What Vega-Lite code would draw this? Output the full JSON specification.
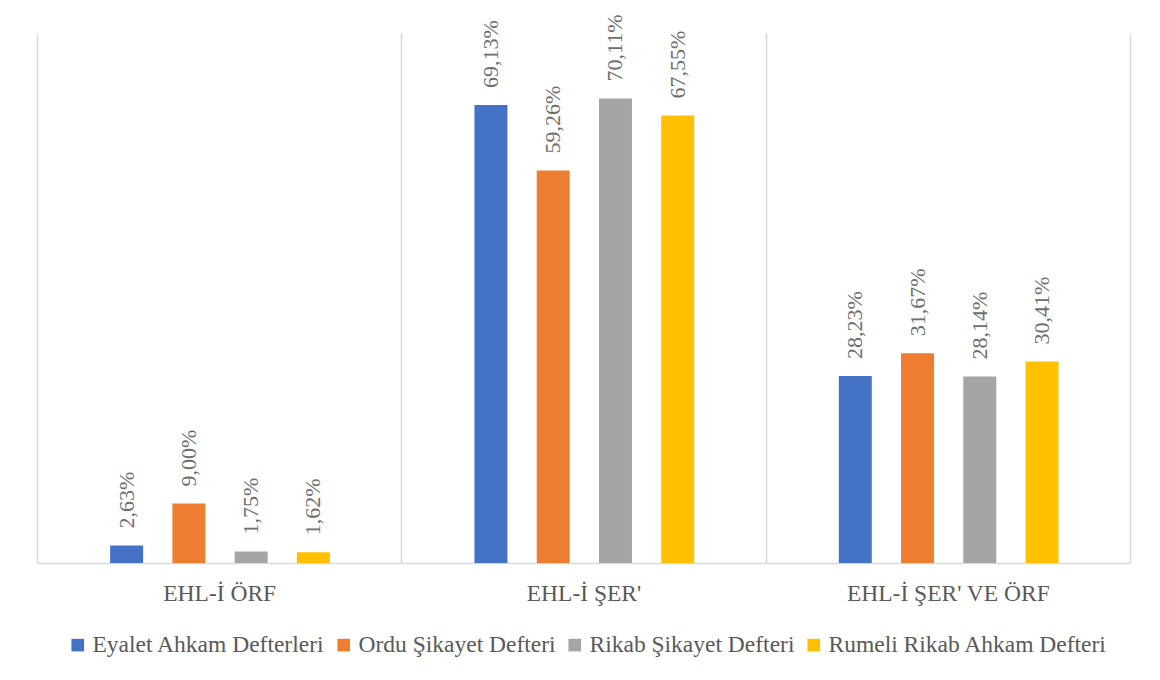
{
  "$schema": "https://vega.github.io/schema/vega-lite/v6.json",
  "width": 1093,
  "height": 530,
  "autosize": {"type": "none"},
  "padding": {"left": 37, "top": 33, "right": 30, "bottom": 117},
  "background": "white",
  "config": {
    "view": {"stroke": null},
    "font": "'Liberation Serif', 'DejaVu Serif', serif",
    "locale": {"number": {"decimal": ",", "thousands": ".", "grouping": [3], "currency": ["", " TL"]}}
  },
  "data": {
    "values": [
      {"kategori": "EHL-İ ÖRF", "defter": "Eyalet Ahkam Defterleri", "oran": 0.0263},
      {"kategori": "EHL-İ ÖRF", "defter": "Ordu Şikayet Defteri", "oran": 0.09},
      {"kategori": "EHL-İ ÖRF", "defter": "Rikab Şikayet Defteri", "oran": 0.0175},
      {"kategori": "EHL-İ ÖRF", "defter": "Rumeli Rikab Ahkam Defteri", "oran": 0.0162},
      {"kategori": "EHL-İ ŞER'", "defter": "Eyalet Ahkam Defterleri", "oran": 0.6913},
      {"kategori": "EHL-İ ŞER'", "defter": "Ordu Şikayet Defteri", "oran": 0.5926},
      {"kategori": "EHL-İ ŞER'", "defter": "Rikab Şikayet Defteri", "oran": 0.7011},
      {"kategori": "EHL-İ ŞER'", "defter": "Rumeli Rikab Ahkam Defteri", "oran": 0.6755},
      {"kategori": "EHL-İ ŞER' VE ÖRF", "defter": "Eyalet Ahkam Defterleri", "oran": 0.2823},
      {"kategori": "EHL-İ ŞER' VE ÖRF", "defter": "Ordu Şikayet Defteri", "oran": 0.3167},
      {"kategori": "EHL-İ ŞER' VE ÖRF", "defter": "Rikab Şikayet Defteri", "oran": 0.2814},
      {"kategori": "EHL-İ ŞER' VE ÖRF", "defter": "Rumeli Rikab Ahkam Defteri", "oran": 0.3041}
    ]
  },
  "encoding": {
    "x": {
      "field": "kategori", "type": "nominal", "sort": null,
      "scale": {"paddingInner": 0, "paddingOuter": 0},
      "axis": {
        "title": null, "labelAngle": 0, "tickBand": "extent", "grid": true,
        "gridColor": "#d9d9d9", "gridWidth": 1.5, "ticks": false,
        "domainColor": "#d9d9d9", "domainWidth": 1.5,
        "labelFont": "'Liberation Serif', 'DejaVu Serif', serif", "labelFontSize": 23.5, "labelColor": "#595959",
        "labelPadding": 18, "labelLimit": 500
      }
    },
    "xOffset": {
      "field": "defter", "type": "nominal", "sort": null,
      "scale": {"range": [42, 324], "paddingInner": 0.47, "paddingOuter": 0.5}
    },
    "y": {
      "field": "oran", "type": "quantitative",
      "scale": {"domain": [0, 0.8], "nice": false},
      "axis": null
    }
  },
  "layer": [
    {
      "mark": {"type": "bar"},
      "encoding": {
        "color": {
          "field": "defter", "type": "nominal", "sort": null,
          "scale": {
            "domain": ["Eyalet Ahkam Defterleri", "Ordu Şikayet Defteri", "Rikab Şikayet Defteri", "Rumeli Rikab Ahkam Defteri"],
            "range": ["#4472C4", "#ED7D31", "#A5A5A5", "#FFC000"]
          },
          "legend": {
            "title": null, "orient": "none", "direction": "horizontal",
            "legendX": 29, "legendY": 600,
            "symbolType": "square", "symbolSize": 160, "symbolStrokeWidth": 0,
            "labelFont": "'Liberation Serif', 'DejaVu Serif', serif", "labelFontSize": 23.5, "labelColor": "#595959",
            "labelLimit": 400, "columnPadding": 7, "symbolOffset": 0, "labelOffset": 3
          }
        }
      }
    },
    {
      "mark": {
        "type": "text", "angle": 270, "align": "left", "baseline": "middle",
        "dx": 17, "font": "'Liberation Serif', 'DejaVu Serif', serif", "fontSize": 22, "color": "#6e6e6e"
      },
      "encoding": {
        "text": {"field": "oran", "type": "quantitative", "format": ".2%"}
      }
    }
  ]
}
